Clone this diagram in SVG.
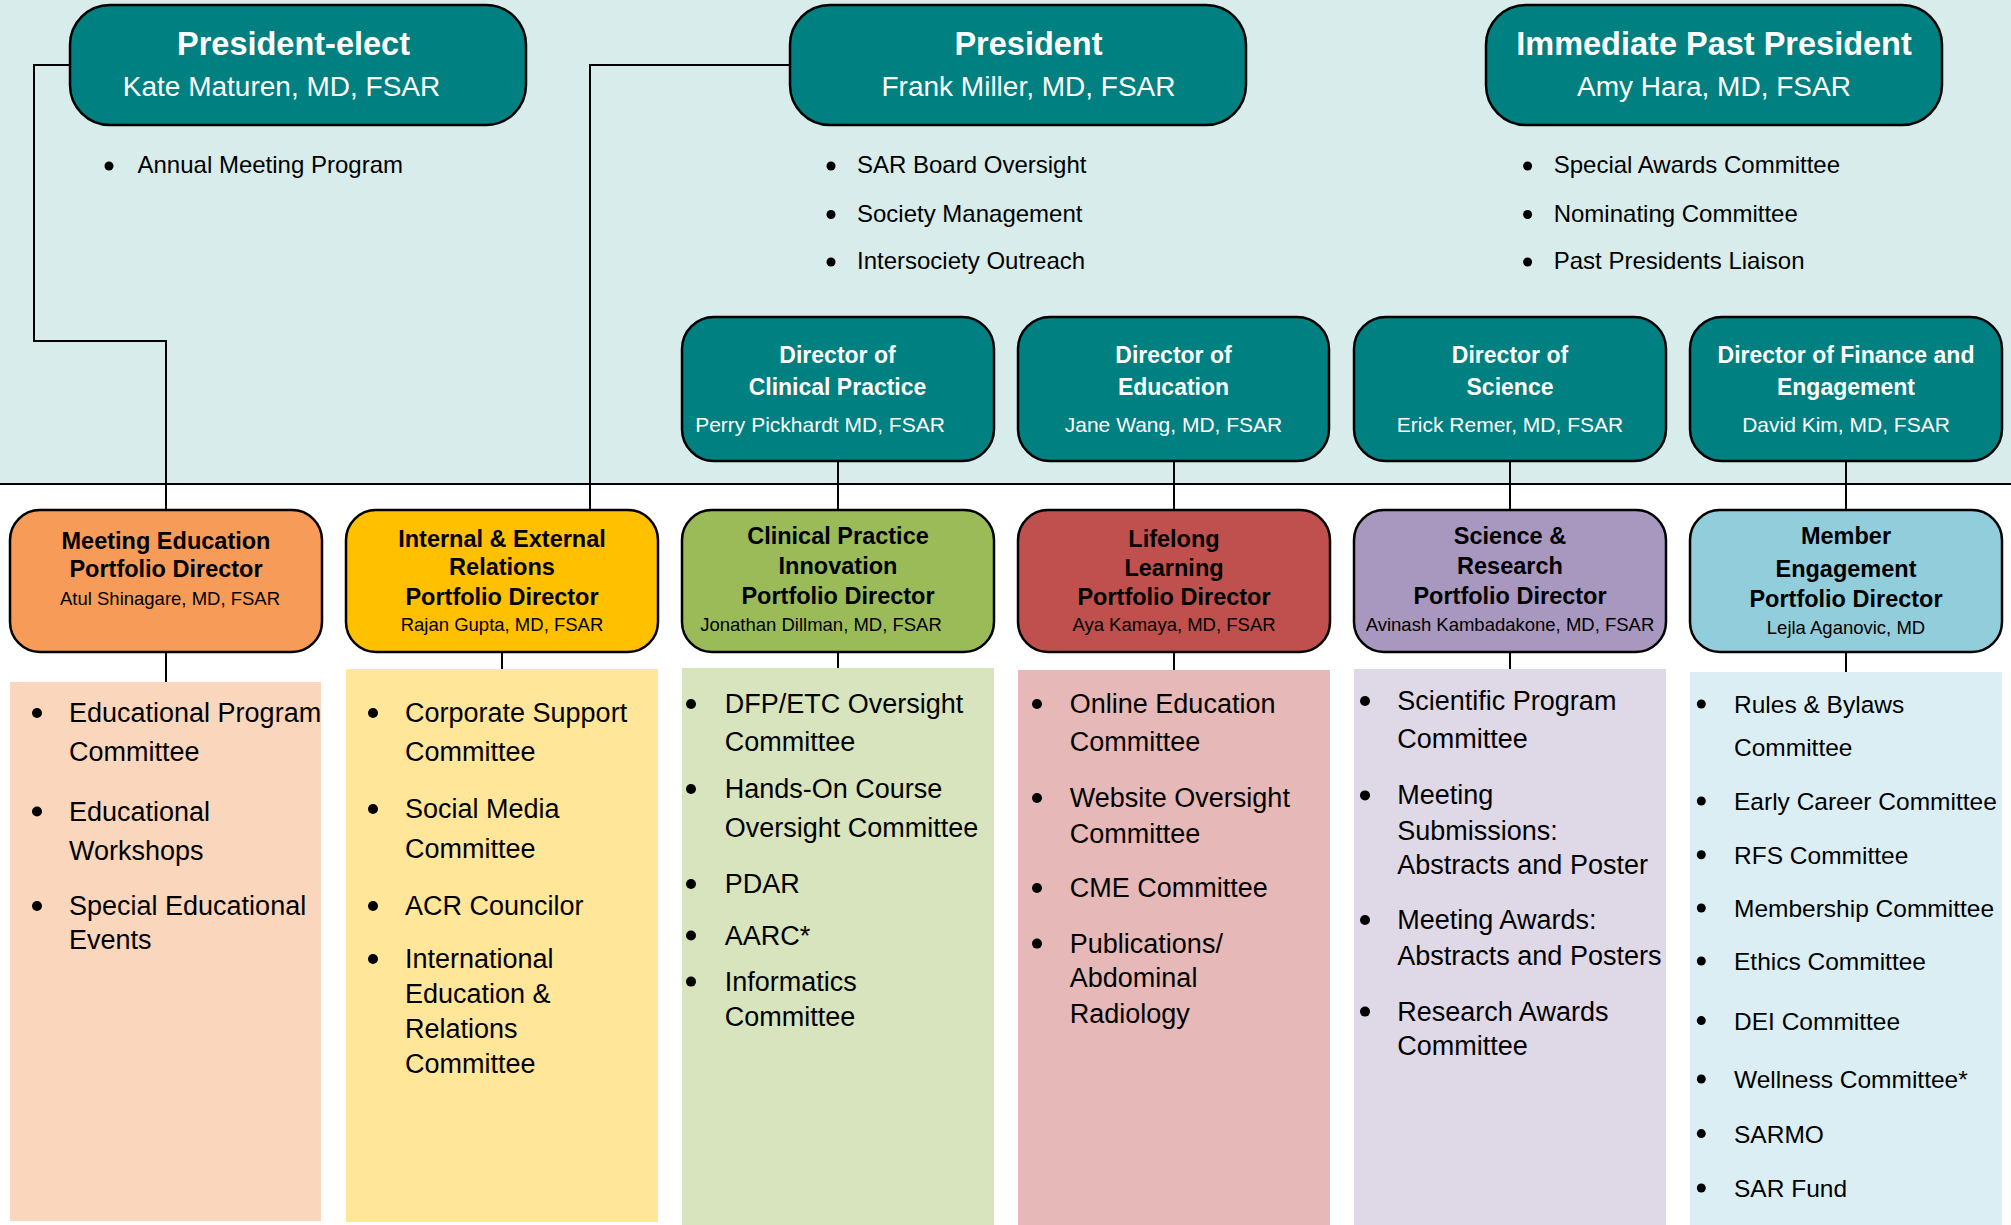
<svg xmlns="http://www.w3.org/2000/svg" width="2011" height="1225" viewBox="0 0 2011 1225">
<style>
text{font-family:"Liberation Sans",Arial,sans-serif}
.hbox{fill:#008080;stroke:#000;stroke-width:2.5}
.ht{fill:#fff;font-weight:bold;font-size:32.5px;text-anchor:middle}
.hn{fill:#fff;font-size:28px;text-anchor:middle}
.dt{fill:#fff;font-weight:bold;font-size:23px;text-anchor:middle}
.dn{fill:#fff;font-size:21px;text-anchor:middle}
.tb{fill:#000;font-size:24px}
.pbox{stroke:#000;stroke-width:2.5}
.pt{fill:#000;font-weight:bold;font-size:23.5px;text-anchor:middle}
.pn{fill:#000;font-size:18.5px;text-anchor:middle}
.li{fill:#000;font-size:27px}
.li2{fill:#000;font-size:24.5px}
.conn{fill:none;stroke:#000;stroke-width:2}
.dot{fill:#000}
</style>
<rect x="0" y="0" width="2011" height="484" fill="#D8ECEB"/>
<rect x="0" y="484" width="2011" height="741" fill="#FFFFFF"/>

<g id="connectors">
<line class="conn" x1="0" y1="484" x2="2011" y2="484"/>
<path class="conn" d="M70,65 H34 V341 H166 V510"/>
<path class="conn" d="M790,65 H590 V510"/>
<path class="conn" d="M838,461 V510"/>
<path class="conn" d="M1174,461 V510"/>
<path class="conn" d="M1510,461 V510"/>
<path class="conn" d="M1846,461 V510"/>
<path class="conn" d="M166,652 V682"/>
<path class="conn" d="M502,652 V669"/>
<path class="conn" d="M838,652 V668"/>
<path class="conn" d="M1174,652 V670"/>
<path class="conn" d="M1510,652 V669"/>
<path class="conn" d="M1846,652 V672"/>
</g>

<g id="president-elect">
<rect class="hbox" x="70" y="5" width="456" height="120" rx="40"/>
<text class="ht" x="293.5" y="55">President-elect</text>
<text class="hn" x="281.5" y="96">Kate Maturen, MD, FSAR</text>
<circle class="dot" cx="109" cy="166" r="4.5"/>
<text class="tb" x="137.5" y="173">Annual Meeting Program</text>
</g>

<g id="president">
<rect class="hbox" x="790" y="5" width="456" height="120" rx="40"/>
<text class="ht" x="1028.5" y="55">President</text>
<text class="hn" x="1028.5" y="96">Frank Miller, MD, FSAR</text>
<circle class="dot" cx="831" cy="166" r="4.5"/>
<text class="tb" x="857" y="173">SAR Board Oversight</text>
<circle class="dot" cx="831" cy="214.5" r="4.5"/>
<text class="tb" x="857" y="221.5">Society Management</text>
<circle class="dot" cx="831" cy="262" r="4.5"/>
<text class="tb" x="857" y="269">Intersociety Outreach</text>
</g>

<g id="immediate-past-president">
<rect class="hbox" x="1486" y="5" width="456" height="120" rx="40"/>
<text class="ht" x="1714" y="55">Immediate Past President</text>
<text class="hn" x="1714" y="96">Amy Hara, MD, FSAR</text>
<circle class="dot" cx="1527.6" cy="166" r="4.5"/>
<text class="tb" x="1553.7" y="173">Special Awards Committee</text>
<circle class="dot" cx="1527.6" cy="214.5" r="4.5"/>
<text class="tb" x="1553.7" y="221.5">Nominating Committee</text>
<circle class="dot" cx="1527.6" cy="262" r="4.5"/>
<text class="tb" x="1553.7" y="269">Past Presidents Liaison</text>
</g>

<g id="dir-clinical-practice">
<rect class="hbox" x="682" y="317" width="312" height="144" rx="32"/>
<text class="dt" x="837.5" y="363">Director of</text>
<text class="dt" x="837.5" y="395">Clinical Practice</text>
<text class="dn" x="820" y="432">Perry Pickhardt MD, FSAR</text>
</g>
<g id="dir-education">
<rect class="hbox" x="1018" y="317" width="311" height="144" rx="32"/>
<text class="dt" x="1173.5" y="363">Director of</text>
<text class="dt" x="1173.5" y="395">Education</text>
<text class="dn" x="1173.5" y="432">Jane Wang, MD, FSAR</text>
</g>
<g id="dir-science">
<rect class="hbox" x="1354" y="317" width="312" height="144" rx="32"/>
<text class="dt" x="1510" y="363">Director of</text>
<text class="dt" x="1510" y="395">Science</text>
<text class="dn" x="1510" y="432">Erick Remer, MD, FSAR</text>
</g>
<g id="dir-finance">
<rect class="hbox" x="1690" y="317" width="312" height="144" rx="32"/>
<text class="dt" x="1846" y="363">Director of Finance and</text>
<text class="dt" x="1846" y="395">Engagement</text>
<text class="dn" x="1846" y="432">David Kim, MD, FSAR</text>
</g>

<g id="meeting-education">
<rect class="pbox" x="10" y="510" width="312" height="142" rx="30" fill="#F79B58"/>
<text class="pt" x="166" y="549">Meeting Education</text>
<text class="pt" x="166" y="577.4">Portfolio Director</text>
<text class="pn" x="170" y="604.5">Atul Shinagare, MD, FSAR</text>
<rect x="10" y="682" width="311" height="539" fill="#FAD7BC"/>
<circle class="dot" cx="37" cy="713" r="5"/>
<text class="li" x="69" y="722">Educational Program</text>
<text class="li" x="69" y="761">Committee</text>
<circle class="dot" cx="37" cy="811.5" r="5"/>
<text class="li" x="69" y="820.6">Educational</text>
<text class="li" x="69" y="860">Workshops</text>
<circle class="dot" cx="37" cy="906" r="5"/>
<text class="li" x="69" y="914.6">Special Educational</text>
<text class="li" x="69" y="949">Events</text>
</g>

<g id="internal-external">
<rect class="pbox" x="346" y="510" width="312" height="142" rx="30" fill="#FFC000"/>
<text class="pt" x="502" y="546.5">Internal &amp; External</text>
<text class="pt" x="502" y="575">Relations</text>
<text class="pt" x="502" y="604.5">Portfolio Director</text>
<text class="pn" x="502" y="631">Rajan Gupta, MD, FSAR</text>
<rect x="346" y="669" width="312" height="553" fill="#FFE699"/>
<circle class="dot" cx="373" cy="713" r="5"/>
<text class="li" x="405" y="722">Corporate Support</text>
<text class="li" x="405" y="761">Committee</text>
<circle class="dot" cx="373" cy="809" r="5"/>
<text class="li" x="405" y="818">Social Media</text>
<text class="li" x="405" y="857.6">Committee</text>
<circle class="dot" cx="373" cy="906" r="5"/>
<text class="li" x="405" y="914.6">ACR Councilor</text>
<circle class="dot" cx="373" cy="959" r="5"/>
<text class="li" x="405" y="968">International</text>
<text class="li" x="405" y="1002.5">Education &amp;</text>
<text class="li" x="405" y="1038">Relations</text>
<text class="li" x="405" y="1072.8">Committee</text>
</g>

<g id="clinical-practice-innovation">
<rect class="pbox" x="682" y="510" width="312" height="142" rx="30" fill="#9BBB59"/>
<text class="pt" x="838" y="544">Clinical Practice</text>
<text class="pt" x="838" y="574">Innovation</text>
<text class="pt" x="838" y="603.5">Portfolio Director</text>
<text class="pn" x="821" y="631">Jonathan Dillman, MD, FSAR</text>
<rect x="682" y="668" width="312" height="557" fill="#D7E4BD"/>
<circle class="dot" cx="691" cy="704" r="5"/>
<text class="li" x="724.7" y="712.75">DFP/ETC Oversight</text>
<text class="li" x="724.7" y="750.75">Committee</text>
<circle class="dot" cx="691" cy="789" r="5"/>
<text class="li" x="724.7" y="798">Hands-On Course</text>
<text class="li" x="724.7" y="837">Oversight Committee</text>
<circle class="dot" cx="691" cy="884" r="5"/>
<text class="li" x="724.7" y="893">PDAR</text>
<circle class="dot" cx="691" cy="935.5" r="5"/>
<text class="li" x="724.7" y="944.5">AARC*</text>
<circle class="dot" cx="691" cy="981.6" r="5"/>
<text class="li" x="724.7" y="990.6">Informatics</text>
<text class="li" x="724.7" y="1026">Committee</text>
</g>

<g id="lifelong-learning">
<rect class="pbox" x="1018" y="510" width="312" height="142" rx="30" fill="#C0504D"/>
<text class="pt" x="1174" y="546.5">Lifelong</text>
<text class="pt" x="1174" y="576">Learning</text>
<text class="pt" x="1174" y="604.5">Portfolio Director</text>
<text class="pn" x="1174" y="631">Aya Kamaya, MD, FSAR</text>
<rect x="1018" y="670" width="312" height="555" fill="#E6B8B7"/>
<circle class="dot" cx="1037" cy="704" r="5"/>
<text class="li" x="1069.8" y="712.75">Online Education</text>
<text class="li" x="1069.8" y="750.75">Committee</text>
<circle class="dot" cx="1037" cy="798" r="5"/>
<text class="li" x="1069.8" y="806.8">Website Oversight</text>
<text class="li" x="1069.8" y="843.4">Committee</text>
<circle class="dot" cx="1037" cy="888" r="5"/>
<text class="li" x="1069.8" y="897">CME Committee</text>
<circle class="dot" cx="1037" cy="943.6" r="5"/>
<text class="li" x="1069.8" y="952.6">Publications/</text>
<text class="li" x="1069.8" y="987.3">Abdominal</text>
<text class="li" x="1069.8" y="1023">Radiology</text>
</g>

<g id="science-research">
<rect class="pbox" x="1354" y="510" width="312" height="142" rx="30" fill="#A897BF"/>
<text class="pt" x="1510" y="544">Science &amp;</text>
<text class="pt" x="1510" y="574">Research</text>
<text class="pt" x="1510" y="603.5">Portfolio Director</text>
<text class="pn" x="1510" y="631">Avinash Kambadakone, MD, FSAR</text>
<rect x="1354" y="669" width="312" height="556" fill="#DFD8E7"/>
<circle class="dot" cx="1365" cy="701" r="5"/>
<text class="li" x="1397.3" y="710">Scientific Program</text>
<text class="li" x="1397.3" y="748">Committee</text>
<circle class="dot" cx="1365" cy="795.4" r="5"/>
<text class="li" x="1397.3" y="804.4">Meeting</text>
<text class="li" x="1397.3" y="839.6">Submissions:</text>
<text class="li" x="1397.3" y="874">Abstracts and Poster</text>
<circle class="dot" cx="1365" cy="920" r="5"/>
<text class="li" x="1397.3" y="929">Meeting Awards:</text>
<text class="li" x="1397.3" y="964.5">Abstracts and Posters</text>
<circle class="dot" cx="1365" cy="1011.6" r="5"/>
<text class="li" x="1397.3" y="1020.6">Research Awards</text>
<text class="li" x="1397.3" y="1054.8">Committee</text>
</g>

<g id="member-engagement">
<rect class="pbox" x="1690" y="510" width="312" height="142" rx="30" fill="#92CDDC"/>
<text class="pt" x="1846" y="544">Member</text>
<text class="pt" x="1846" y="577">Engagement</text>
<text class="pt" x="1846" y="607">Portfolio Director</text>
<text class="pn" x="1846" y="634.4">Lejla Aganovic, MD</text>
<rect x="1690" y="672" width="312" height="553" fill="#DBEEF3"/>
<circle class="dot" cx="1701.3" cy="704" r="4.5"/>
<text class="li2" x="1734" y="712.75">Rules &amp; Bylaws</text>
<text class="li2" x="1734" y="755.5">Committee</text>
<circle class="dot" cx="1701.3" cy="801" r="4.5"/>
<text class="li2" x="1734" y="810">Early Career Committee</text>
<circle class="dot" cx="1701.3" cy="854.8" r="4.5"/>
<text class="li2" x="1734" y="863.8">RFS Committee</text>
<circle class="dot" cx="1701.3" cy="908" r="4.5"/>
<text class="li2" x="1734" y="917">Membership Committee</text>
<circle class="dot" cx="1701.3" cy="961" r="4.5"/>
<text class="li2" x="1734" y="970">Ethics Committee</text>
<circle class="dot" cx="1701.3" cy="1020.6" r="4.5"/>
<text class="li2" x="1734" y="1029.6">DEI Committee</text>
<circle class="dot" cx="1701.3" cy="1079" r="4.5"/>
<text class="li2" x="1734" y="1088">Wellness Committee*</text>
<circle class="dot" cx="1701.3" cy="1133.6" r="4.5"/>
<text class="li2" x="1734" y="1142.6">SARMO</text>
<circle class="dot" cx="1701.3" cy="1188" r="4.5"/>
<text class="li2" x="1734" y="1197">SAR Fund</text>
</g>
</svg>
